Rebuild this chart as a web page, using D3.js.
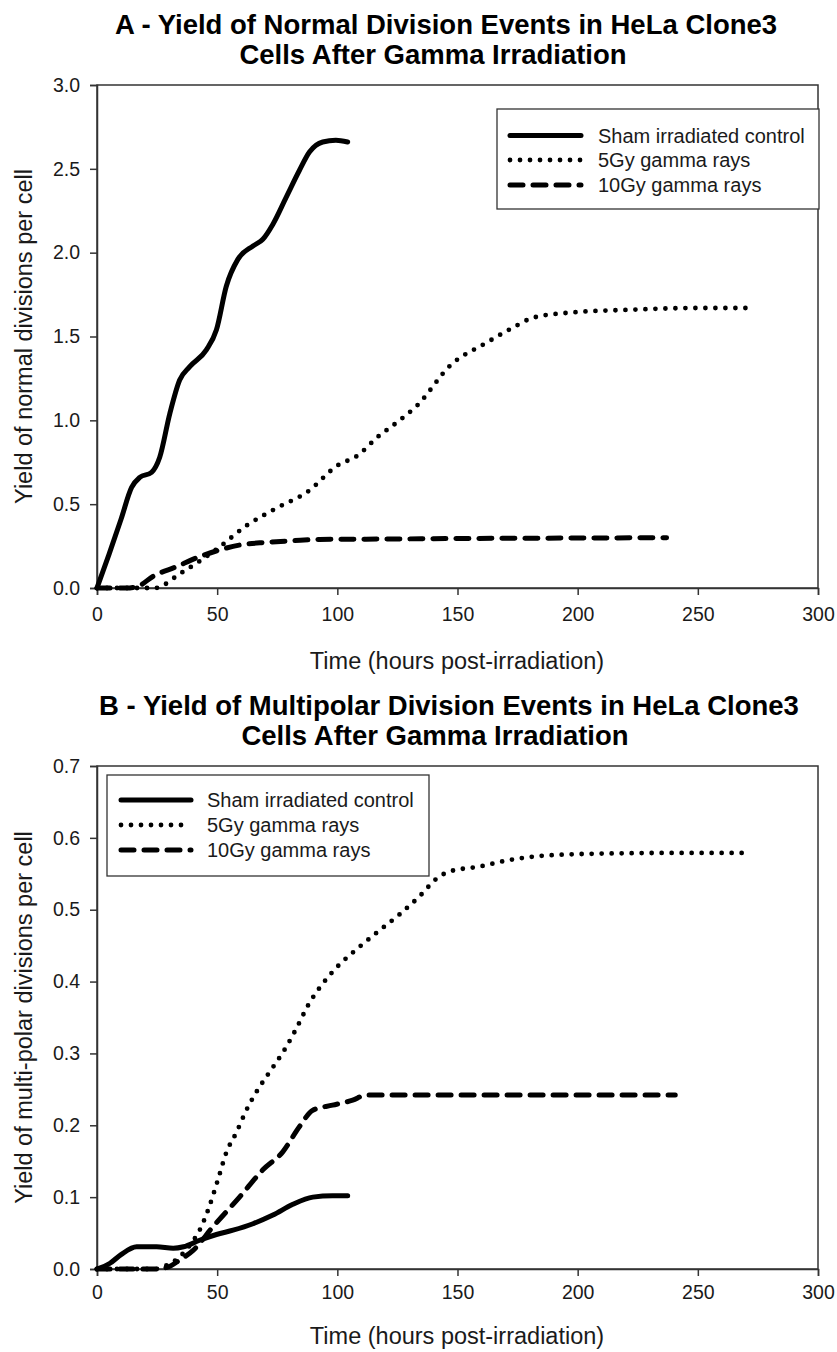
<!DOCTYPE html>
<html><head><meta charset="utf-8">
<script src="https://cdn.jsdelivr.net/npm/d3@7"></script>
<style>body{margin:0;background:#fff}svg{display:block}text{font-family:"Liberation Sans",Arial,sans-serif}</style>
</head><body>
<script>
// Panel A data (hours, yield)
const shamA_x = [0, 5, 10, 14.4, 17.8, 22.7, 26.1, 30.3, 34.4, 38.6, 45.5, 49.7, 53.8, 58.6, 64.9, 69, 73.2, 78.7, 84.2, 88.4, 93.9, 99.4, 104.3];
const shamA_y = [0, 0.2, 0.41, 0.60, 0.66, 0.69, 0.78, 1.04, 1.24, 1.32, 1.42, 1.54, 1.80, 1.96, 2.04, 2.08, 2.17, 2.33, 2.49, 2.60, 2.66, 2.67, 2.66];
const gy5A_x = [0, 10, 20, 24, 35, 49.7, 62, 74.5, 87.7, 100, 108.4, 116.7, 125, 133.3, 147.2, 161.7, 172.7, 181, 194.9, 222.5, 250, 271];
const gy5A_y = [0, 0, 0, 0, 0.09, 0.23, 0.37, 0.475, 0.575, 0.73, 0.79, 0.90, 0.99, 1.09, 1.33, 1.46, 1.55, 1.61, 1.64, 1.66, 1.67, 1.67];
const gy10A_x = [0, 5, 12.3, 17, 23.4, 33, 42.7, 51, 59.3, 70.4, 81.5, 92.6, 120, 150, 200, 237];
const gy10A_y = [0, 0, 0, 0.01, 0.07, 0.127, 0.187, 0.227, 0.256, 0.272, 0.282, 0.29, 0.292, 0.295, 0.298, 0.30];

// Panel B data
const shamB_x = [0, 5.4, 10, 16.5, 24.8, 31.7, 36, 42.7, 49.7, 56.6, 64.9, 73.2, 81.5, 89.8, 98, 104.3];
const shamB_y = [0, 0.008, 0.02, 0.031, 0.031, 0.029, 0.031, 0.04, 0.048, 0.054, 0.063, 0.075, 0.09, 0.10, 0.102, 0.102];
const gy5B_x = [0, 12, 24, 28.9, 34.4, 39.3, 42.7, 46.2, 50.3, 53.8, 58, 62, 67, 72, 78, 83, 88, 93, 100.1, 108.4, 116.7, 125.7, 134, 141.6, 146.5, 159, 171.4, 185.2, 208.7, 240, 270.3];
const gy5B_y = [0, 0, 0, 0.005, 0.017, 0.036, 0.054, 0.082, 0.124, 0.162, 0.19, 0.22, 0.25, 0.275, 0.305, 0.335, 0.368, 0.393, 0.421, 0.446, 0.469, 0.493, 0.518, 0.544, 0.553, 0.56, 0.569, 0.575, 0.578, 0.579, 0.579];
const gy10B_x = [0, 12.3, 22.8, 28.9, 34.4, 40, 48.3, 59.3, 69, 77.3, 84.2, 89.8, 98, 106.4, 111.9, 150, 200, 240.6];
const gy10B_y = [0, 0, 0, 0.002, 0.0125, 0.026, 0.059, 0.10, 0.138, 0.163, 0.198, 0.221, 0.228, 0.235, 0.242, 0.242, 0.242, 0.242];

const xTicks = [0, 50, 100, 150, 200, 250, 300];
const yTicksA = [0, 0.5, 1.0, 1.5, 2.0, 2.5, 3.0];
const yTicksB = [0, 0.1, 0.2, 0.3, 0.4, 0.5, 0.6, 0.7];
const seriesNames = ["Sham irradiated control", "5Gy gamma rays", "10Gy gamma rays"];
const titleA = ["A - Yield of Normal Division Events in HeLa Clone3", "Cells After Gamma Irradiation"];
const titleB = ["B - Yield of Multipolar Division Events in HeLa Clone3", "Cells After Gamma Irradiation"];
const xTitle = "Time (hours post-irradiation)";
const yTitleA = "Yield of normal divisions per cell";
const yTitleB = "Yield of multi-polar divisions per cell";

const W = 837, H = 1352;
const svg = d3.select("body").append("svg").attr("width", W).attr("height", H);
const FONT = '"Liberation Sans",Arial,sans-serif';

const styles = [
  {width: 5, dash: null, cap: "round"},
  {width: 4.8, dash: "0 10", cap: "round"},
  {width: 5, dash: "13 10", cap: "round"}
];

function zip(xs, ys){ return xs.map((x,i)=>[x, ys[i]]); }

function panel(o){
  const g = svg.append("g");
  const x = d3.scaleLinear().domain([0,300]).range([97, 818]);
  const y = d3.scaleLinear().domain(o.ydom).range([o.bottom, o.top]);
  // title
  o.title.forEach((t,i)=>{
    g.append("text").attr("x", o.titleX[i]).attr("y", o.titleY + i*30).attr("text-anchor","middle")
      .attr("font-size", 27.5).attr("font-weight","bold").attr("fill","#000").text(t);
  });
  // frame
  g.append("rect").attr("x", 97).attr("y", o.top).attr("width", 721).attr("height", o.bottom-o.top)
    .attr("fill","none").attr("stroke","#333").attr("stroke-width",1.5);
  const xa = g.append("g").attr("transform",`translate(0,${o.bottom})`)
    .call(d3.axisBottom(x).tickValues(xTicks).tickSize(7).tickPadding(o.xpad).tickFormat(d3.format("d")));
  const ya = g.append("g").attr("transform","translate(97,0)")
    .call(d3.axisLeft(y).tickValues(o.yticks).tickSize(7).tickPadding(10).tickFormat(d3.format(".1f")));
  [xa, ya].forEach(a=>{
    a.select(".domain").attr("stroke","#333").attr("stroke-width",1.5);
    a.selectAll(".tick line").attr("stroke","#333").attr("stroke-width",1.5);
    a.selectAll(".tick text").attr("font-size",19.5).attr("fill","#1a1a1a").attr("font-family",FONT);
  });
  g.append("text").attr("x", 457).attr("y", o.xTitleY).attr("text-anchor","middle")
    .attr("font-size", 23.5).attr("fill","#1a1a1a").text(xTitle);
  g.append("text").attr("transform",`translate(32,${(o.top+o.bottom)/2}) rotate(-90)`).attr("text-anchor","middle")
    .attr("font-size", 23.5).attr("fill","#1a1a1a").text(o.ytitle);
  const line = d3.line().x(d=>x(d[0])).y(d=>y(d[1])).curve(d3.curveMonotoneX);
  o.series.forEach((s,i)=>{
    const st = styles[i];
    g.append("path").datum(s).attr("d", line).attr("fill","none").attr("stroke","#000")
      .attr("stroke-width", st.width).attr("stroke-linecap", st.cap).attr("stroke-linejoin","round")
      .attr("stroke-dasharray", st.dash);
  });
  // legend
  const L = o.legend;
  g.append("rect").attr("x", L.x).attr("y", L.y).attr("width", L.w).attr("height", L.h)
    .attr("fill","#fff").attr("stroke","#333").attr("stroke-width",1.3);
  seriesNames.forEach((n,i)=>{
    const st = styles[i];
    const yy = L.rows[i];
    g.append("line").attr("x1", L.lx1).attr("x2", L.lx2).attr("y1", yy).attr("y2", yy)
      .attr("stroke","#000").attr("stroke-width", st.width).attr("stroke-linecap", st.cap)
      .attr("stroke-dasharray", st.dash);
    g.append("text").attr("x", L.tx).attr("y", yy + 7).attr("font-size", 20).attr("fill","#1a1a1a").text(n);
  });
}

panel({
  title: titleA, titleX: [446, 433], titleY: 34, top: 85, bottom: 588, ydom: [0,3], yticks: yTicksA, ytitle: yTitleA,
  xpad: 12, xTitleY: 669,
  series: [zip(shamA_x, shamA_y), zip(gy5A_x, gy5A_y), zip(gy10A_x, gy10A_y)],
  legend: {x: 497, y: 109, w: 322, h: 100, lx1: 510, lx2: 581, tx: 598, rows: [135.5, 160, 185]}
});
panel({
  title: titleB, titleX: [449, 435], titleY: 715, top: 766, bottom: 1269, ydom: [0,0.7], yticks: yTicksB, ytitle: yTitleB,
  xpad: 9, xTitleY: 1344,
  series: [zip(shamB_x, shamB_y), zip(gy5B_x, gy5B_y), zip(gy10B_x, gy10B_y)],
  legend: {x: 107, y: 775, w: 322, h: 101, lx1: 121, lx2: 191, tx: 207, rows: [800, 825, 850]}
});
</script>
</body></html>
